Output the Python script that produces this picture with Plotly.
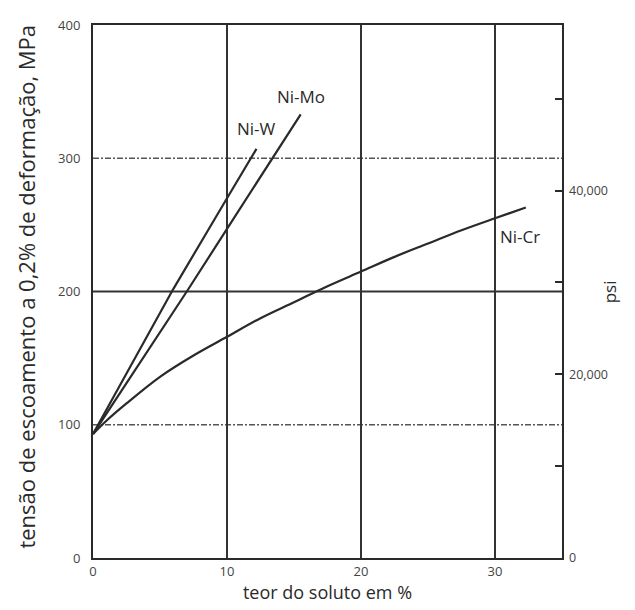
import plotly.graph_objects as go

# ---- data ----
ni_w_x = [0, 6, 10, 12.2]
ni_w_y = [93, 202, 270, 307]

ni_mo_x = [0, 7, 10, 15.5]
ni_mo_y = [93, 200, 247, 333]

ni_cr_x = [0, 1, 2.5, 5, 7.5, 10, 12.5, 15, 17.5, 20, 22.5, 25, 27.5, 30, 32.3]
ni_cr_y = [93, 103, 116, 136, 152, 166, 180, 192, 204, 215, 226, 236, 246, 255, 263]

series_names = ["Ni-W", "Ni-Mo", "Ni-Cr"]
label_x = [12.2, 15.5, 31.9]
label_y = [322, 346, 241]

x_ticks = [0, 10, 20, 30]
y_ticks = [0, 100, 200, 300, 400]
solid_grid_mpa = [200]
dashed_grid_mpa = [100, 300]
psi_ticks = [0, 20000, 40000]
psi_tick_text = ["0", "20,000", "40,000"]
MPA_TO_PSI = 145.038

x_range = [0, 35]
y_range = [0, 400]

ink = "#2a2a2a"
grid_ink = "#333333"

fig = go.Figure()
for xs, ys, name, shp in [(ni_w_x, ni_w_y, "Ni-W", "linear"),
                          (ni_mo_x, ni_mo_y, "Ni-Mo", "linear"),
                          (ni_cr_x, ni_cr_y, "Ni-Cr", "spline")]:
    fig.add_trace(go.Scatter(x=xs, y=ys, mode="lines", name=name,
                             line=dict(color=ink, width=2.2, shape=shp),
                             showlegend=False, hoverinfo="x+y"))

# invisible trace to activate the psi axis
fig.add_trace(go.Scatter(x=[x_range[0]], y=[0], yaxis="y2", mode="markers",
                         marker=dict(opacity=0), showlegend=False, hoverinfo="skip"))

shapes = []
for v in solid_grid_mpa:
    shapes.append(dict(type="line", xref="paper", x0=0, x1=1, yref="y", y0=v, y1=v,
                       line=dict(color=grid_ink, width=1.8), layer="below"))
for v in dashed_grid_mpa:
    shapes.append(dict(type="line", xref="paper", x0=0, x1=1, yref="y", y0=v, y1=v,
                       line=dict(color="#555555", width=1.4, dash="6px,2px,2px,2px"), layer="below"))

annotations = []
for name, lx, ly in zip(series_names, label_x, label_y):
    annotations.append(dict(x=lx, y=ly, xref="x", yref="y", text=name, showarrow=False,
                            font=dict(family="Open Sans", size=17, color=ink)))

# axis titles placed as annotations for precise position
annotations.append(dict(x=-0.142, y=0.51, xref="paper", yref="paper", xanchor="center", yanchor="middle",
                        text="tensão de escoamento a 0,2% de deformação, MPa", textangle=-90,
                        showarrow=False, font=dict(family="Open Sans", size=22, color=ink)))
annotations.append(dict(x=1.102, y=0.5, xref="paper", yref="paper", xanchor="center", yanchor="middle",
                        text="psi", textangle=-90, showarrow=False,
                        font=dict(family="Open Sans", size=17, color=ink)))

fig.update_layout(
    width=627, height=602,
    margin=dict(l=85, r=73, t=17, b=52, autoexpand=False),
    paper_bgcolor="white", plot_bgcolor="white",
    font=dict(family="Open Sans", color=ink),
    shapes=shapes,
    annotations=annotations,
    xaxis=dict(range=x_range, tickvals=x_ticks, showgrid=True, gridcolor=grid_ink, gridwidth=1.8,
               showline=True, linecolor=ink, linewidth=2, mirror=True, ticks="",
               zeroline=False, tickfont=dict(size=13, color="#444"), automargin=False,
               title=dict(text="teor do soluto em %", font=dict(size=18, color=ink), standoff=5)),
    yaxis=dict(range=y_range, tickvals=y_ticks, showgrid=False,
               showline=True, linecolor=ink, linewidth=2, mirror=True, ticks="",
               ticklabelstandoff=8, automargin=False,
               zeroline=False, tickfont=dict(size=13, color="#444")),
    yaxis2=dict(overlaying="y", side="right",
                range=[y_range[0] * MPA_TO_PSI, y_range[1] * MPA_TO_PSI],
                tickvals=psi_ticks, ticktext=psi_tick_text,
                ticks="inside", ticklen=7, tickcolor=ink, tickwidth=1.5,
                minor=dict(dtick=10000, tick0=10000, ticks="inside", ticklen=7, tickcolor=ink, tickwidth=1.5),
                ticklabelstandoff=6, automargin=False,
                showgrid=False, zeroline=False, showline=False,
                tickfont=dict(size=12.5, color="#444")),
)

fig.write_html("out.html")
